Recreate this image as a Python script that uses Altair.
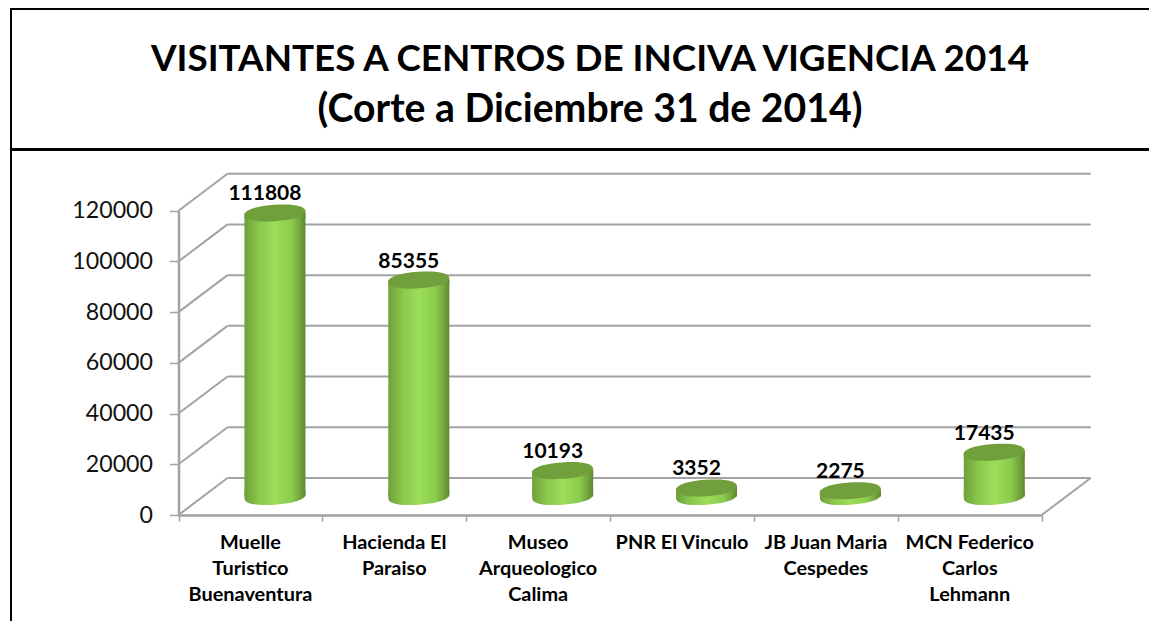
import math
import altair as alt
import pandas as pd

categories = ["Muelle\nTuristico\nBuenaventura", "Hacienda El\nParaiso", "Museo\nArqueologico\nCalima",
              "PNR El Vinculo", "JB Juan Maria\nCespedes", "MCN Federico\nCarlos\nLehmann"]
values = [111808, 85355, 10193, 3352, 2275, 17435]
y_ticks = [0, 20000, 40000, 60000, 80000, 100000, 120000]
x_ticks = [0, 1, 2, 3, 4, 5, 6]
title_main = "VISITANTES A CENTROS DE INCIVA VIGENCIA 2014"
title_sub = "(Corte a Diciembre 31 de 2014)"

FONT = "Lato"
GRID = "#a3a3a3"
W, H = 1141, 613
df = pd.DataFrame({"cat": categories, "value": values, "pos": [i + 0.5 for i in range(len(values))]})
gridlines = pd.DataFrame({"v": y_ticks, "a": [0] * 7, "b": [6] * 7})

X = alt.Scale(domain=[0, 6], range=[170.5, 1033.7], padding=0, nice=False, zero=False)
Y = alt.Scale(domain=[0, 120000], range=[507, 202.7], padding=0, nice=False, zero=False)
XAX = alt.Axis(values=x_ticks, labels=False, grid=False, offset=507 - H, tickSize=6, tickWidth=1.5,
               tickColor=GRID, domainColor=GRID, domainWidth=2.5, title=None)
YAX = alt.Axis(values=y_ticks, format="d", grid=False, offset=-170.5, tickSize=9, tickWidth=1.5,
               tickColor=GRID, domainColor=GRID, domainWidth=2.5, labelPadding=17,
               labelFont=FONT, labelFontSize=23.2, labelColor="#111111", title=None)
DX, DY = 49, -37
CX, CY = 24.5, -18.5
D = 61

body = alt.Gradient(gradient="linear", x1=0, x2=1, y1=0, y2=0, stops=[
    alt.GradientStop(offset=0, color="#6f9f3a"),
    alt.GradientStop(offset=0.25, color="#8bca4d"),
    alt.GradientStop(offset=0.5, color="#9bde59"),
    alt.GradientStop(offset=0.78, color="#8bca4d"),
    alt.GradientStop(offset=0.94, color="#6c9c39"),
    alt.GradientStop(offset=1, color="#5c8730"),
])

# tilted ellipse outline for the cylinder caps, as Bezier curves
TILT = math.radians(4)
K = 0.62
ux, uy = math.cos(TILT), -math.sin(TILT)
vx, vy = 0.27 * math.sin(TILT), 0.27 * math.cos(TILT)


def seg(a, b, c):
    return "C %.4f %.4f %.4f %.4f %.4f %.4f " % (a + b + c)


R, B, L, T = (ux, uy), (vx, vy), (-ux, -uy), (-vx, -vy)


def ctrl(p, d):
    return (p[0] + K * d[0], p[1] + K * d[1])


to_bottom = seg(ctrl(R, B), ctrl(B, R), B) + seg(ctrl(B, L), ctrl(L, B), L)
to_top = seg(ctrl(L, T), ctrl(T, L), T) + seg(ctrl(T, R), ctrl(R, T), R)
ELLIPSE = "M %.4f %.4f " % R + to_bottom + to_top + "Z"
BASE = "M -1 -0.2 L 1 -0.2 L %.4f %.4f " % R + to_bottom + "Z"
TOPPATCH = "M %.4f %.4f L %.4f %.4f L 1 0.18 L -1 0.18 Z" % (L + R)


def ex(field):
    return alt.X(field, scale=X, axis=XAX)


def ey(field):
    return alt.Y(field, scale=Y, axis=YAX)


y0 = alt.YDatum(0, scale=Y, axis=YAX)

back = alt.Chart(gridlines).mark_rule(color=GRID, strokeWidth=2, xOffset=DX, x2Offset=DX, yOffset=DY, y2Offset=DY).encode(
    x=ex("a:Q"), x2="b:Q", y=ey("v:Q"))
side = alt.Chart(gridlines).mark_rule(color=GRID, strokeWidth=2, x2Offset=DX, y2Offset=DY).encode(
    x=ex("a:Q"), x2="a:Q", y=ey("v:Q"), y2="v:Q")
floor_edge = alt.Chart(gridlines[gridlines.v == 0]).mark_rule(color=GRID, strokeWidth=2, x2Offset=DX, y2Offset=DY).encode(
    x=ex("b:Q"), x2="b:Q", y=ey("v:Q"), y2="v:Q")

bars = alt.Chart(df).mark_bar(fill=body, width=D, orient="vertical", xOffset=CX, yOffset=CY, y2Offset=CY).encode(
    x=ex("pos:Q"), y=ey("value:Q"), y2=alt.Y2Datum(0))


def cap(shape, fill, at_top):
    mark = alt.Chart(df).mark_point(shape=shape, filled=True, fill=fill, opacity=1, size=D * D, strokeWidth=0,
                                    xOffset=CX, yOffset=CY)
    return mark.encode(x=ex("pos:Q"), y=ey("value:Q") if at_top else y0)


base = cap(BASE, body, False)
patch = cap(TOPPATCH, body, True)
top = cap(ELLIPSE, "#709f3c", True)

val_labels = alt.Chart(df).mark_text(font=FONT, fontWeight="bold", fontSize=21, color="black", dx=14.5, dy=-37,
                                     baseline="middle").encode(x=ex("pos:Q"), y=ey("value:Q"), text="value:Q")
cat_labels = alt.Chart(df).mark_text(font=FONT, fontWeight="bold", fontSize=19.9, color="black", lineBreak="\n",
                                     lineHeight=26, baseline="top", dy=18).encode(
    x=ex("pos:Q"), y=y0, text="cat:N")

frame_left = alt.Chart(df).mark_rule(color="black", strokeWidth=2).encode(x=alt.value(3), y=alt.value(0), y2=alt.value(H))
frame_top = alt.Chart(df).mark_rule(color="black", strokeWidth=2).encode(x=alt.value(3), x2=alt.value(W), y=alt.value(1))
frame_mid = alt.Chart(df).mark_rule(color="black", strokeWidth=2).encode(x=alt.value(3), x2=alt.value(W), y=alt.value(141.5))

chart = alt.layer(side, back, floor_edge, bars, base, patch, top, val_labels, cat_labels,
                  frame_left, frame_top, frame_mid).properties(
    width=W, height=H, padding=0, autosize=alt.AutoSizeParams(type="none"),
    title=alt.TitleParams(text=title_main, subtitle=title_sub, anchor="middle", frame="group", offset=-123, dx=11.5,
                          font=FONT, fontWeight="bold", fontSize=36.8, color="black",
                          subtitleFont=FONT, subtitleFontWeight="bold", subtitleFontSize=39.2,
                          subtitleColor="black", subtitlePadding=12),
).configure_view(stroke=None)

chart.save("out.html", embed_options={"renderer": "svg", "actions": False})
